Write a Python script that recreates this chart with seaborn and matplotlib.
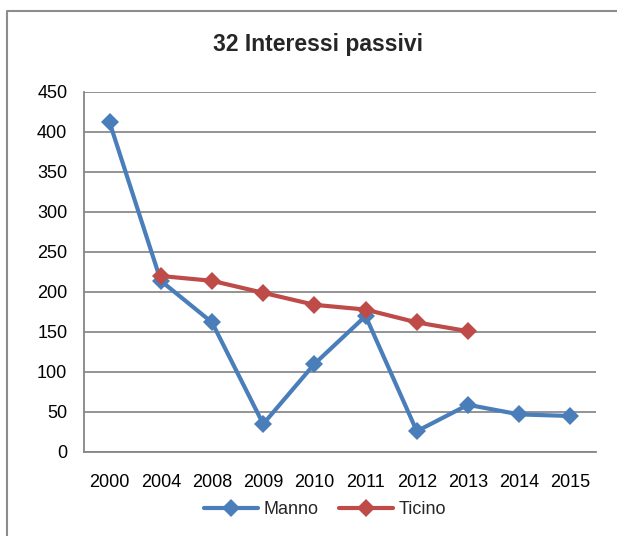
import matplotlib
matplotlib.use("Agg")
import matplotlib.pyplot as plt
import seaborn as sns
import pandas as pd
from matplotlib.lines import Line2D

years = ["2000", "2004", "2008", "2009", "2010", "2011", "2012", "2013", "2014", "2015"]
manno = [412, 214, 162, 35, 110, 170, 26, 59, 47, 45]
ticino_years = ["2004", "2008", "2009", "2010", "2011", "2012", "2013"]
ticino = [220, 214, 199, 184, 178, 162, 151]
title = "32 Interessi passivi"
yticks = [0, 50, 100, 150, 200, 250, 300, 350, 400, 450]

sns.set_theme(style="white")
FONT = ["Liberation Sans", "DejaVu Sans"]
plt.rcParams["font.family"] = FONT

df_m = pd.DataFrame({"pos": [years.index(y) for y in years], "val": manno})
df_t = pd.DataFrame({"pos": [years.index(y) for y in ticino_years], "val": ticino})

fig = plt.figure(figsize=(6.2, 5.36), dpi=100, facecolor="white", edgecolor="white")
fig.patch.set_linewidth(0)
ax = fig.add_axes([84 / 620, 1 - 452 / 536, (596 - 84) / 620, (452 - 92) / 536])

blue = "#4a7ebb"
red = "#be4b48"
sns.lineplot(data=df_m, x="pos", y="val", ax=ax, color=blue, marker="D",
             markersize=9, linewidth=3, markeredgewidth=0, label="Manno", zorder=3)
sns.lineplot(data=df_t, x="pos", y="val", ax=ax, color=red, marker="D",
             markersize=9, linewidth=3, markeredgewidth=0, label="Ticino", zorder=4)

ax.set_xlim(-0.5, len(years) - 0.5)
ax.set_ylim(0, 450)
ax.set_yticks(yticks)
ax.set_yticklabels([str(v) for v in yticks])
ax.set_xticks(range(len(years)))
ax.set_xticklabels(years)
ax.set_xticks([i - 0.5 for i in range(len(years) + 1)], minor=True)
ax.tick_params(axis="x", which="major", length=0, pad=16, labelsize=13, colors="#000000")
ax.tick_params(axis="x", which="minor", length=5, width=1.3, color="#868686", direction="out")
ax.tick_params(axis="y", which="major", length=5, width=1.3, color="#868686", direction="out",
               labelsize=13, pad=7, labelcolor="#000000")
ax.set_xlabel("")
ax.set_ylabel("")
ax.grid(axis="y", color="#8a8a8a", linewidth=1.3)
ax.set_axisbelow(True)
for s in ["top", "right"]:
    ax.spines[s].set_visible(False)
for s in ["left", "bottom"]:
    ax.spines[s].set_color("#868686")
    ax.spines[s].set_linewidth(1.3)

fig.text(318 / 620, 1 - 45 / 536, title, ha="center", va="center",
         fontsize=16.5, fontweight="bold", family=FONT)

leg = ax.legend(loc="center", bbox_to_anchor=(325 / 620, 1 - 510 / 536),
                bbox_transform=fig.transFigure, ncol=2, frameon=False,
                fontsize=13, handlelength=3.0, columnspacing=1.1, handletextpad=0.3)

x0 = 6.5 / 620
y0 = 1 - 10.5 / 536
fig.add_artist(Line2D([x0, x0], [0, y0], transform=fig.transFigure,
                      color="#8c8c8c", linewidth=1.5))
fig.add_artist(Line2D([x0, 0.995], [y0, y0], transform=fig.transFigure,
                      color="#8c8c8c", linewidth=1.5, solid_capstyle="butt"))

fig.savefig("out.png", dpi=100, facecolor="white", edgecolor="none")
